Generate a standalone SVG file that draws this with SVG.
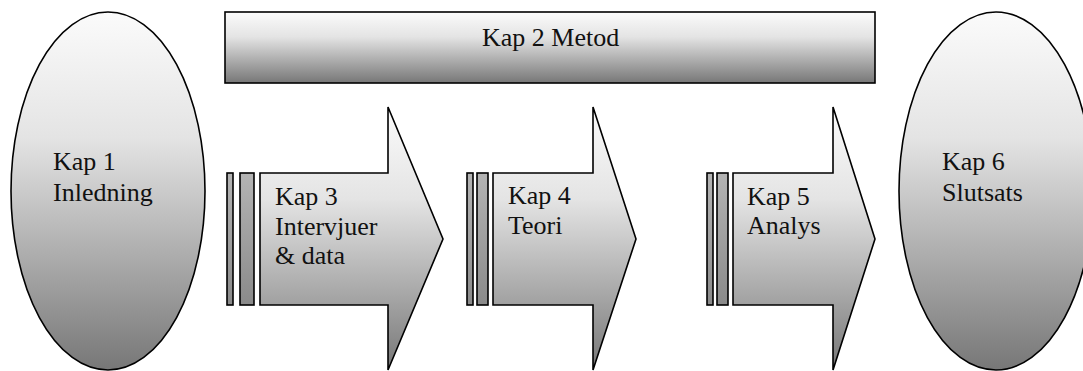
<svg xmlns="http://www.w3.org/2000/svg" width="1083" height="371" viewBox="0 0 1083 371">
  <defs>
    <linearGradient id="g" x1="0" y1="0" x2="0" y2="1">
      <stop offset="0" stop-color="#fbfbfb"/>
      <stop offset="0.35" stop-color="#e4e4e4"/>
      <stop offset="1" stop-color="#777777"/>
    </linearGradient>
    <linearGradient id="gb" x1="0" y1="0" x2="0" y2="1">
      <stop offset="0" stop-color="#b4b4b4"/>
      <stop offset="1" stop-color="#8a8a8a"/>
    </linearGradient>
    <style>
      .sh { fill: url(#g); stroke: #000; stroke-width: 1.6; stroke-linejoin: miter; }
      .bar { fill: url(#gb); stroke: #000; stroke-width: 1.6; }
      .t { font-family: "Liberation Serif", "Times New Roman", serif; font-size: 26px; fill: #111; }
    </style>
  </defs>
  <rect width="1083" height="371" fill="#ffffff"/>

  <g id="kap1">
    <ellipse class="sh" cx="108" cy="191" rx="97" ry="179"/>
    <text class="t" x="53" y="170">Kap 1</text>
    <text class="t" x="53" y="201">Inledning</text>
  </g>

  <g id="kap2">
    <rect class="sh" x="225" y="12" width="650" height="71"/>
    <text class="t" x="482" y="46">Kap 2 Metod</text>
  </g>

  <g id="kap3">
    <rect class="bar" x="227" y="173" width="6" height="132"/>
    <rect class="bar" x="240" y="173" width="14" height="132"/>
    <polygon class="sh" points="260,173 388,173 388,107 443,239 388,370 388,305 260,305"/>
    <text class="t" x="275" y="205">Kap 3</text>
    <text class="t" x="275" y="235">Intervjuer</text>
    <text class="t" x="275" y="264">&amp; data</text>
  </g>

  <g id="kap4">
    <rect class="bar" x="467" y="173" width="6" height="132"/>
    <rect class="bar" x="477" y="173" width="11" height="132"/>
    <polygon class="sh" points="493,173 593,173 593,107 636,239 593,370 593,305 493,305"/>
    <text class="t" x="508" y="204">Kap 4</text>
    <text class="t" x="508" y="234">Teori</text>
  </g>

  <g id="kap5">
    <rect class="bar" x="707" y="173" width="6" height="132"/>
    <rect class="bar" x="717" y="173" width="11" height="132"/>
    <polygon class="sh" points="733,173 833,173 833,107 875,239 833,370 833,305 733,305"/>
    <text class="t" x="747" y="205">Kap 5</text>
    <text class="t" x="747" y="234">Analys</text>
  </g>

  <g id="kap6">
    <ellipse class="sh" cx="996" cy="191" rx="97" ry="179"/>
    <text class="t" x="942" y="170">Kap 6</text>
    <text class="t" x="942" y="201">Slutsats</text>
  </g>

  <g id="connectors"></g>
</svg>
